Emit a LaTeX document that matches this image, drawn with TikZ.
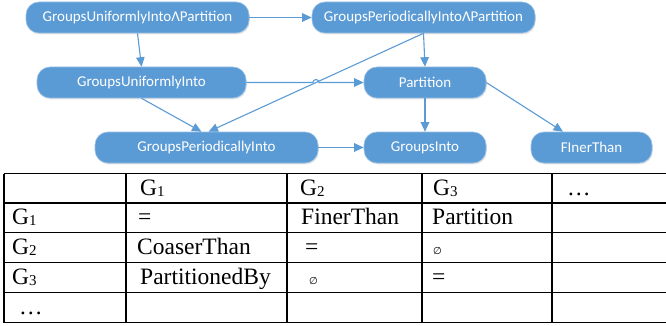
\documentclass[tikz,border=0pt]{standalone}
\usepackage{fontspec}
\setmainfont{Liberation Serif}
\newfontfamily\nodefont{Carlito}
\newfontfamily\symfont{DejaVu Sans}
\usetikzlibrary{arrows.meta,shadows}
\definecolor{nodeblue}{RGB}{91,155,213}
\definecolor{nodeedge}{RGB}{150,190,228}
\definecolor{edgeblue}{RGB}{91,155,213}
\newcommand{\Gs}[1]{G{\fontsize{15}{15}\selectfont\raisebox{-1pt}{#1}}}
\tikzset{
  box/.style={rectangle, rounded corners=13pt, fill=nodeblue, draw=nodeedge, line width=0.6pt,
    text=white, font=\nodefont\fontsize{15}{18}\selectfont, inner sep=0pt, minimum height=31pt,
    drop shadow={opacity=0.22, shadow xshift=0.8pt, shadow yshift=-1.4pt}},
  edge/.style={draw=edgeblue, line width=1.1pt, -{Triangle[length=9.5pt,width=8.5pt]}},
  cell/.style={anchor=base west, inner sep=0pt, font=\fontsize{23.5}{25}\selectfont},
  small/.style={anchor=base west, inner sep=0pt, font=\symfont\fontsize{10}{12}\selectfont},
  grid/.style={draw=black, line width=1.3pt}
}
\begin{document}
\begin{tikzpicture}[x=1pt,y=1pt]
\useasboundingbox (0,0) rectangle (666,-326);
% nodes
\node[box, minimum width=223pt] (N1) at (137.5,-17.5) {GroupsUniformlyIntoΛPartition};
\node[box, minimum width=223pt] (N2) at (423.5,-17.5) {GroupsPeriodicallyIntoΛPartition};
\node[box, minimum width=209pt] (N3) at (141.5,-82.5) {GroupsUniformlyInto};
\node[box, minimum width=122pt] (N4) at (425,-82.5) {Partition};
\node[box, minimum width=223pt] (N5) at (206.5,-147.5) {GroupsPeriodicallyInto};
\node[box, minimum width=122pt] (N6) at (425,-147.5) {GroupsInto};
\node[box, minimum width=121pt] (N7) at (591.5,-147.5) {FInerThan};
% connectors
\draw[edge] (N1.east) -- (N2.west);
\draw[edge] (N1.south) -- (N3.north);
\draw[edge] (N2.south) -- (N4.north);
\draw[edge] (N2.south) -- ([xshift=2pt]N5.north);
\draw[edge] (N3.south) -- ([xshift=-5pt]N5.north);
\draw[edge] (N3.east) -- (313,-82.5) arc[start angle=180,end angle=0,radius=3] -- (N4.west);
\draw[edge] (N4.south) -- (N6.north);
\draw[edge] (N5.east) -- (N6.west);
\draw[edge] (N4.east) -- ([xshift=-28.5pt]N7.north);
% table grid
\foreach \yy in {173.5,203,232.5,262.5,292.5,322.5}
  \draw[grid] (4,-\yy) -- (667,-\yy);
\foreach \xx in {4,126,287,422,552}
  \draw[grid] (\xx,-173.5) -- (\xx,-322.5);
% table text
\node[cell] (h1) at (140,-195) {\Gs{1}};
\node[cell] (h2) at (300,-195) {\Gs{2}};
\node[cell] (h3) at (433,-195) {\Gs{3}};
\node[cell] (h4) at (567,-195) {\dots};
\node[cell] (r1) at (12,-224.5) {\Gs{1}};
\node[cell] (r2) at (12,-254) {\Gs{2}};
\node[cell] (r3) at (12,-284) {\Gs{3}};
\node[cell] (r4) at (19,-314) {\dots};
\node[cell] (c11) at (138,-224.5) {=};
\node[cell] (c12) at (301,-224.5) {FinerThan};
\node[cell] (c13) at (432,-224.5) {Partition};
\node[cell] (c21) at (137,-254) {CoaserThan};
\node[cell] (c22) at (305,-254) {=};
\node[small] (c23) at (433,-254) {∅};
\node[cell] (c31) at (140,-284) {PartitionedBy};
\node[small] (c32) at (309,-284) {∅};
\node[cell] (c33) at (432,-284) {=};
\end{tikzpicture}
\end{document}
